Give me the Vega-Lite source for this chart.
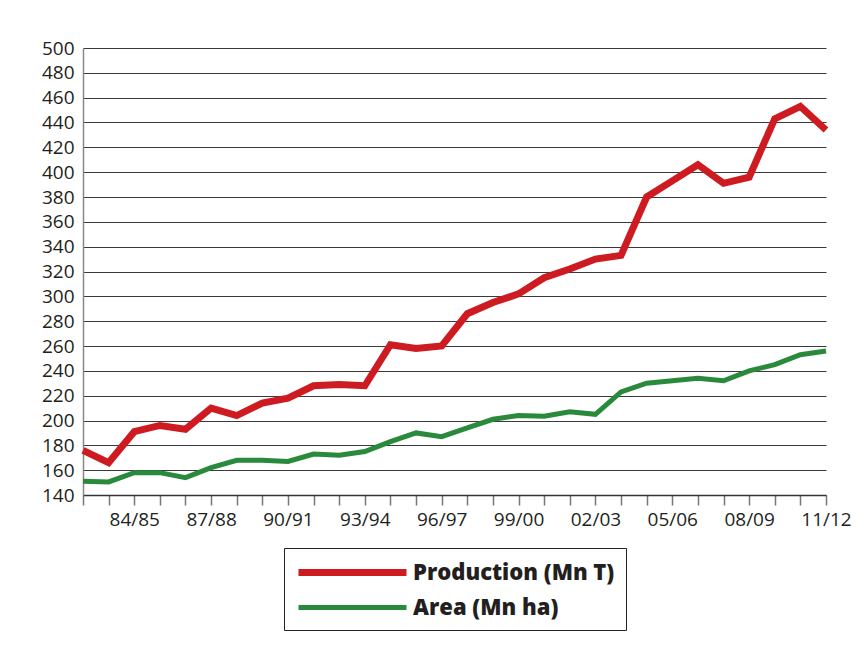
{
  "$schema": "https://vega.github.io/schema/vega-lite/v6.json",
  "autosize": {"type": "none"},
  "width": 743,
  "height": 447,
  "padding": {"left": 83, "top": 48, "right": 40, "bottom": 157},
  "background": "#ffffff",
  "config": {
    "view": {"stroke": null},
    "font": "Open Sans"
  },
  "data": {
    "values": [
      {"year": "82/83", "Production (Mn T)": 176, "Area (Mn ha)": 151},
      {"year": "83/84", "Production (Mn T)": 166, "Area (Mn ha)": 150.5},
      {"year": "84/85", "Production (Mn T)": 191, "Area (Mn ha)": 158},
      {"year": "85/86", "Production (Mn T)": 196, "Area (Mn ha)": 158},
      {"year": "86/87", "Production (Mn T)": 193, "Area (Mn ha)": 154},
      {"year": "87/88", "Production (Mn T)": 210, "Area (Mn ha)": 162},
      {"year": "88/89", "Production (Mn T)": 204, "Area (Mn ha)": 168},
      {"year": "89/90", "Production (Mn T)": 214, "Area (Mn ha)": 168},
      {"year": "90/91", "Production (Mn T)": 218, "Area (Mn ha)": 167},
      {"year": "91/92", "Production (Mn T)": 228, "Area (Mn ha)": 173},
      {"year": "92/93", "Production (Mn T)": 229, "Area (Mn ha)": 172},
      {"year": "93/94", "Production (Mn T)": 228, "Area (Mn ha)": 175},
      {"year": "94/95", "Production (Mn T)": 261, "Area (Mn ha)": 183},
      {"year": "95/96", "Production (Mn T)": 258, "Area (Mn ha)": 190},
      {"year": "96/97", "Production (Mn T)": 260, "Area (Mn ha)": 187},
      {"year": "97/98", "Production (Mn T)": 286, "Area (Mn ha)": 194},
      {"year": "98/99", "Production (Mn T)": 295, "Area (Mn ha)": 201},
      {"year": "99/00", "Production (Mn T)": 302, "Area (Mn ha)": 204},
      {"year": "00/01", "Production (Mn T)": 315, "Area (Mn ha)": 203.5},
      {"year": "01/02", "Production (Mn T)": 322, "Area (Mn ha)": 207},
      {"year": "02/03", "Production (Mn T)": 330, "Area (Mn ha)": 205},
      {"year": "03/04", "Production (Mn T)": 333, "Area (Mn ha)": 223},
      {"year": "04/05", "Production (Mn T)": 380, "Area (Mn ha)": 230},
      {"year": "05/06", "Production (Mn T)": 393, "Area (Mn ha)": 232},
      {"year": "06/07", "Production (Mn T)": 406, "Area (Mn ha)": 234},
      {"year": "07/08", "Production (Mn T)": 391, "Area (Mn ha)": 232},
      {"year": "08/09", "Production (Mn T)": 396, "Area (Mn ha)": 240},
      {"year": "09/10", "Production (Mn T)": 443, "Area (Mn ha)": 245},
      {"year": "10/11", "Production (Mn T)": 453, "Area (Mn ha)": 253},
      {"year": "11/12", "Production (Mn T)": 434, "Area (Mn ha)": 256}
    ]
  },
  "transform": [
    {"fold": ["Production (Mn T)", "Area (Mn ha)"], "as": ["series", "value"]}
  ],
  "mark": {"type": "line", "strokeJoin": "miter", "strokeCap": "butt"},
  "encoding": {
    "x": {
      "field": "year",
      "type": "ordinal",
      "sort": null,
      "scale": {"type": "point", "padding": 0},
      "axis": {
        "title": null,
        "labelAngle": 0,
        "labelFontSize": 19,
        "labelColor": "#231f20",
        "labelPadding": 5,
        "labelOverlap": false,
        "labelFlush": false,
        "labelExpr": "indexof(['84/85','87/88','90/91','93/94','96/97','99/00','02/03','05/06','08/09','11/12'], datum.value) >= 0 ? datum.label : ''",
        "ticks": true,
        "tickSize": 10,
        "tickWidth": 1.5,
        "tickColor": "#777777",
        "domainColor": "#333333",
        "domainWidth": 1.5,
        "grid": false
      }
    },
    "y": {
      "field": "value",
      "type": "quantitative",
      "scale": {"domain": [140, 500], "nice": false, "zero": false},
      "axis": {
        "title": null,
        "values": [140, 160, 180, 200, 220, 240, 260, 280, 300, 320, 340, 360, 380, 400, 420, 440, 460, 480, 500],
        "labelFontSize": 19,
        "labelColor": "#231f20",
        "labelPadding": 9,
        "ticks": false,
        "domainColor": "#888888",
        "domainWidth": 1.5,
        "grid": true,
        "gridColor": "#3a3a3a",
        "gridWidth": 1.2
      }
    },
    "color": {
      "field": "series",
      "type": "nominal",
      "scale": {"domain": ["Production (Mn T)", "Area (Mn ha)"], "range": ["#cd1b21", "#2a8a3c"]},
      "legend": {
        "title": null,
        "orient": "none",
        "legendX": 201,
        "legendY": 500,
        "direction": "vertical",
        "fillColor": "#ffffff",
        "strokeColor": "#222222",
        "padding": 11,
        "symbolType": "M-5.4,0H5.4",
        "symbolSize": 400,
        "symbolOffset": 44,
        "symbolStrokeWidth": 5,
        "labelFontSize": 22,
        "labelFontWeight": 800,
        "labelColor": "#231f20",
        "labelOffset": 47,
        "rowPadding": 8,
        "labelLimit": 400
      }
    },
    "strokeWidth": {
      "field": "series",
      "type": "nominal",
      "scale": {"domain": ["Production (Mn T)", "Area (Mn ha)"], "range": [7, 5]},
      "legend": null
    }
  }
}
